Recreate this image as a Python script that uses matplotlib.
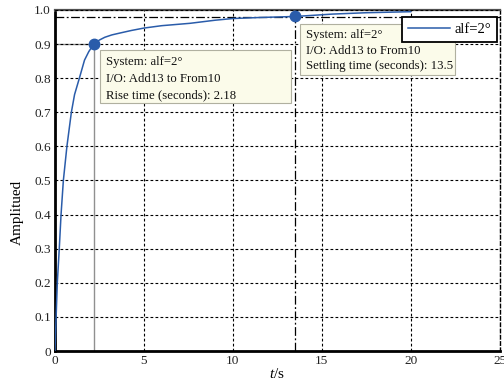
import matplotlib
matplotlib.use("Agg")
import matplotlib.pyplot as plt
from matplotlib.patches import Rectangle

plt.rcParams['font.family'] = ['Liberation Serif', 'DejaVu Serif']
plt.rcParams['mathtext.fontset'] = 'custom'
plt.rcParams['mathtext.rm'] = 'Liberation Serif'
plt.rcParams['mathtext.it'] = 'Liberation Serif:italic'

# Data
t = [0, 0.05, 0.13, 0.24, 0.34, 0.47, 0.67, 0.92, 1.1, 1.37, 1.66, 1.9, 2.18,
     2.5, 2.8, 3.2, 3.7, 4.3, 5.0, 6.0, 7.6, 9.0, 10.0, 11.5, 13.5, 15.6, 17.5, 20.0]
y = [0, 0.08, 0.2, 0.3, 0.4, 0.5, 0.6, 0.7, 0.752, 0.8, 0.853, 0.878, 0.9,
     0.912, 0.92, 0.927, 0.933, 0.94, 0.947, 0.954, 0.961, 0.970, 0.975, 0.978,
     0.981, 0.988, 0.992, 0.995]
rise_t, rise_y = 2.18, 0.9
settle_t, settle_y = 13.5, 0.981
band = 0.98
xticks = [0, 5, 10, 15, 20, 25]
yticks = [0, 0.1, 0.2, 0.3, 0.4, 0.5, 0.6, 0.7, 0.8, 0.9, 1.0]
yticklabels = ['0', '0.1', '0.2', '0.3', '0.4', '0.5', '0.6', '0.7', '0.8', '0.9', '1.0']
series_name = 'alf=2°'
note1 = ['System: alf=2°', 'I/O: Add13 to From10', 'Rise time (seconds): 2.18']
note2 = ['System: alf=2°', 'I/O: Add13 to From10', 'Settling time (seconds): 13.5']

W, H = 504, 387
fig = plt.figure(figsize=(W / 100, H / 100), dpi=100)
ax = fig.add_axes([55 / W, 1 - 351 / H, (499.5 - 55) / W, (351 - 10) / H])

blue = '#2a5caa'
ax.set_xlim(0, 25)
ax.set_ylim(0, 1.0)
ax.set_xticks(xticks)
ax.set_yticks(yticks)
ax.set_yticklabels(yticklabels)
ax.tick_params(labelsize=9.5, length=0, pad=3, colors='#222222')

ax.set_axisbelow(False)
ax.grid(True, color='black', linestyle=(0, (2.5, 2)), linewidth=0.8)

# characteristic lines
ax.plot([rise_t, rise_t], [0, rise_y], color='#909090', lw=1.0, zorder=1.8)
ax.plot([0, rise_t], [rise_y, rise_y], color='#909090', lw=1.0, zorder=1.8)
ax.axhline(band, color='black', lw=0.9, linestyle=(0, (7, 2, 1.5, 2)), zorder=2.6)
ax.plot([settle_t, settle_t], [0, band], color='black', lw=0.9,
        linestyle=(0, (7, 2, 1.5, 2)), zorder=2.6)

line, = ax.plot(t, y, color=blue, lw=1.1, zorder=3, label=series_name)
ax.plot([rise_t], [rise_y], 'o', color=blue, ms=7.5, zorder=4)
ax.plot([settle_t], [settle_y], 'o', color=blue, ms=7.5, zorder=4)

# spines
for s in ['left', 'bottom']:
    ax.spines[s].set_linewidth(2.0)
    ax.spines[s].set_linestyle((0, (2, 1)))
    ax.spines[s].set_color('black')
ax.spines['right'].set_linewidth(1.0)
ax.spines['right'].set_linestyle((0, (2.5, 2)))
ax.spines['top'].set_linewidth(1.6)
ax.spines['top'].set_color('#505050')

# annotation boxes (figure pixel coordinates), drawn inside the axes layer
def note_box(x0, y0, x1, y1, lines, tx, ty0, dy):
    ax.add_patch(Rectangle((x0 / W, 1 - y1 / H), (x1 - x0) / W, (y1 - y0) / H,
                           transform=fig.transFigure, facecolor='#fbfbea',
                           edgecolor='#b0b0a0', lw=0.8, zorder=5, clip_on=False))
    for i, s in enumerate(lines):
        ax.text(tx / W, 1 - (ty0 + i * dy) / H, s, fontsize=9.2, va='center',
                ha='left', color='#111111', zorder=6, transform=fig.transFigure)

note_box(100, 50, 291, 103, note1, 106, 62, 16.5)
note_box(300, 24, 455, 75, note2, 306, 35, 15.5)

leg = ax.legend(handles=[line], loc='upper right',
                bbox_to_anchor=(497 / W, 1 - 17 / H), bbox_transform=fig.transFigure,
                borderaxespad=0, fancybox=False, framealpha=1, edgecolor='black',
                fontsize=10.5, handlelength=2.9, borderpad=0.4, handletextpad=0.3)
leg.get_frame().set_linewidth(1.3)
leg.set_zorder(10)

ax.set_xlabel(r'$t$/s', fontsize=11, labelpad=0)
ax.set_ylabel('Amplitued', fontsize=11)
ax.yaxis.set_label_coords(-0.07, 0.405)

fig.savefig('out.png', dpi=100)
